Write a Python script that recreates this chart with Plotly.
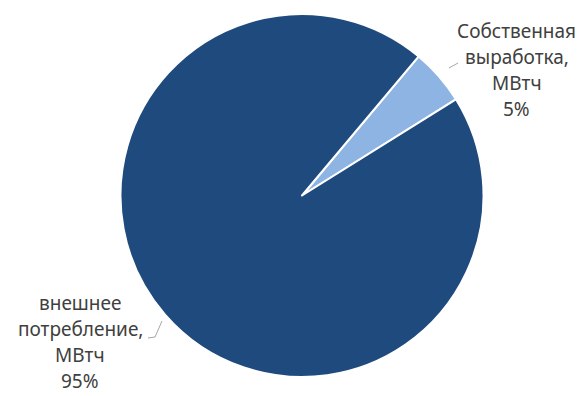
import plotly.graph_objects as go

# slices, clockwise starting from ~40 deg past 12 o'clock
labels = ["Собственная\nвыработка,\nМВтч", "внешнее\nпотребление,\nМВтч"]
values = [5, 95]
colors = ["#8EB4E3", "#1F4A7E"]

# page body has an 8px margin, so the figure is drawn 8px in from the window corner
OFF = 8
W, H = 586 - OFF, 396 - OFF

def fx(x):
    return (x - OFF) / W

def fy(y):
    return 1 - (y - OFF) / H

fig = go.Figure(go.Pie(
    labels=[l.replace("\n", " ") for l in labels],
    values=values,
    sort=False,
    direction="clockwise",
    rotation=40,
    marker=dict(colors=colors, line=dict(color="white", width=2)),
    textinfo="none",
    hoverinfo="label+percent",
    domain=dict(x=[fx(302 - 195), fx(302 + 195)], y=[fy(377), fy(14)]),
))

# data labels, one annotation per line so spacing can match Excel's look
label_pos = [(517, 31), (80, 303)]  # window-pixel centre of first line
line_gap = 26
total = sum(values)
annotations = []
for lab, v, (cx, cy) in zip(labels, values, label_pos):
    lines = lab.split("\n") + [f"{round(v / total * 100)}%"]
    for i, t in enumerate(lines):
        annotations.append(dict(
            text=t, x=fx(cx), y=fy(cy + i * line_gap),
            xref="paper", yref="paper", xanchor="center", yanchor="middle",
            showarrow=False, borderpad=0,
            font=dict(size=19, color="#404040", family="Noto Sans"),
        ))

def pt(x, y):
    return f"{fx(x)} {fy(y)}"

fig.update_layout(
    width=W, height=H,
    margin=dict(l=0, r=0, t=0, b=0),
    paper_bgcolor="white",
    showlegend=False,
    annotations=annotations,
    shapes=[
        dict(type="path", xref="paper", yref="paper",
             path=f"M {pt(449, 68)} L {pt(458, 63)}",
             line=dict(color="#A6A6A6", width=1)),
        dict(type="path", xref="paper", yref="paper",
             path=f"M {pt(148, 338)} L {pt(155, 337)} L {pt(162, 321)}",
             line=dict(color="#A6A6A6", width=1)),
    ],
)

fig.write_html("out.html")
